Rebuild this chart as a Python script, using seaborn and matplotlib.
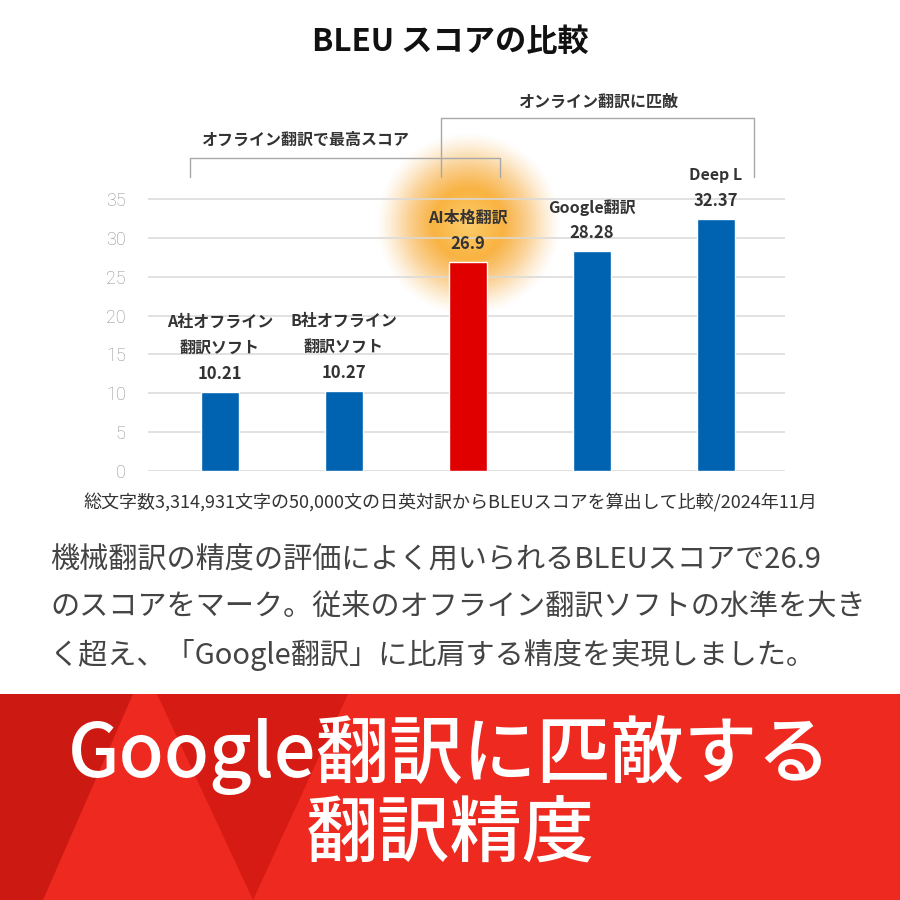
import numpy as np
import pandas as pd
import matplotlib
matplotlib.use("Agg")
import matplotlib.pyplot as plt
from matplotlib.patches import Polygon, Rectangle
import seaborn as sns

# ---------------- data ----------------
names = ["A社オフライン\n翻訳ソフト", "B社オフライン\n翻訳ソフト", "AI本格翻訳", "Google翻訳", "Deep L"]
scores = [10.21, 10.27, 26.9, 28.28, 32.37]
value_labels = ["10.21", "10.27", "26.9", "28.28", "32.37"]
bar_colors = ["#0063B1", "#0063B1", "#E00000", "#0063B1", "#0063B1"]
yticks = [0, 5, 10, 15, 20, 25, 30, 35]

title = "BLEU スコアの比較"
bracket_left_text = "オフライン翻訳で最高スコア"
bracket_right_text = "オンライン翻訳に匹敵"
footnote = "総文字数3,314,931文字の50,000文の日英対訳からBLEUスコアを算出して比較/2024年11月"
paragraph = [
    "機械翻訳の精度の評価によく用いられるBLEUスコアで26.9",
    "のスコアをマーク。従来のオフライン翻訳ソフトの水準を大き",
    "く超え、「Google翻訳」に比肩する精度を実現しました。",
]
banner_lines = ["Google翻訳に匹敵する", "翻訳精度"]

# ---------------- style ----------------
sns.set_theme(style="white")
plt.rcParams["font.family"] = ["Noto Sans CJK JP", "DejaVu Sans"]

W = H = 900
fig = plt.figure(figsize=(9, 9), dpi=100)
fig.patch.set_facecolor("white")

def fx(px):
    return px / W

def fy(py):
    return 1 - py / H

# axes: y=0 at 471px, y=35 at 199px
px_per_unit = (471 - 199) / 35
ytop = 36
ax = fig.add_axes([fx(148), fy(471), fx(785) - fx(148), ytop * px_per_unit / H])
ax.set_facecolor("none")

df = pd.DataFrame({"name": names, "score": scores})
sns.barplot(data=df, x="name", y="score", hue="name", palette=bar_colors,
            width=0.31, saturation=1, legend=False, ax=ax, zorder=3)

ax.set_xlim(-0.58, 4.556)
ax.set_ylim(0, ytop)
ax.set_yticks(yticks)
ax.set_yticklabels([str(t) for t in yticks], color="#8f8f8f", fontsize=13,
                   family=["Roboto", "DejaVu Sans"], fontweight="light")
ax.tick_params(axis="y", length=0, pad=16)
ax.set_xticks([])
ax.set_xlabel("")
ax.set_ylabel("")
for s in ax.spines.values():
    s.set_visible(False)
ax.grid(axis="y", color="#d9d9d9", linewidth=1.1)
ax.set_axisbelow(True)

# glow behind the AI bar
gi = 2
n = 300
yy, xx = np.mgrid[-1:1:n * 1j, -1:1:n * 1j]
r = np.sqrt(xx ** 2 + yy ** 2)
alpha = np.clip((1 - r) / 0.62, 0, 1) ** 1.25
inner = np.array([0.99, 0.80, 0.42])
outer = np.array([0.965, 0.62, 0.12])
t = np.clip(r / 0.7, 0, 1)[..., None]
rgb = inner * (1 - t) + outer * t
img = np.dstack([rgb, alpha])
rad_px = 92
rx = rad_px / 124
ry = rad_px / px_per_unit
cy = scores[gi] + 38 / px_per_unit
im = ax.imshow(img, extent=[gi - rx, gi + rx, cy - ry, cy + ry], aspect="auto",
               zorder=0.2, origin="lower", interpolation="bilinear")
im.set_clip_on(False)
ax.set_xlim(-0.58, 4.556)
ax.set_ylim(0, ytop)

# bar labels
for i, (nm, v, vl) in enumerate(zip(names, scores, value_labels)):
    ax.annotate(vl, (i, v), xytext=(0, 18), textcoords="offset pixels",
                ha="center", va="center", fontsize=12, fontweight="bold",
                color="#333333", zorder=5)
    lines = nm.split("\n")
    for k, ln in enumerate(reversed(lines)):
        ax.annotate(ln, (i, v), xytext=(0, 18 + 26 * (k + 1)), textcoords="offset pixels",
                    ha="center", va="center", fontsize=11.5, fontweight="bold",
                    color="#333333", zorder=5)

# brackets (data-x, pixel-y)
def pxy(py):
    return (471 - py) / px_per_unit

bcol = "#a8a8a8"
def bracket(x0, x1, ytop_px, ybot_px):
    ax.plot([x0, x0, x1, x1], [pxy(ybot_px), pxy(ytop_px), pxy(ytop_px), pxy(ybot_px)],
            color=bcol, lw=1, clip_on=False, zorder=4)

bracket(-0.24, 2.26, 158, 177)
bracket(1.78, 4.31, 118, 177)
ax.text(0.69, pxy(140), bracket_left_text, ha="center", va="center", fontsize=11.5,
        fontweight="bold", color="#333333", clip_on=False)
ax.text(3.05, pxy(102), bracket_right_text, ha="center", va="center", fontsize=11.5,
        fontweight="bold", color="#333333", clip_on=False)

# title
fig.text(0.5, fy(42), title, ha="center", va="center", fontsize=22.5, fontweight="bold",
         color="#111111")

# footnote
fig.text(0.5, fy(503), footnote, ha="center", va="center", fontsize=13, color="#333333")

# paragraph
for k, ln in enumerate(paragraph):
    fig.text(fx(50), fy(561 + 47 * k), ln, ha="left", va="center", fontsize=21,
             color="#444444")

# banner
btop = 694
fig.add_artist(Rectangle((0, 0), 1, fy(btop), transform=fig.transFigure,
                         facecolor="#EE291F", edgecolor="none", zorder=1))
polys = [
    ([(0, btop), (133, btop), (43, 900), (0, 900)], "#CC1A12"),
    ([(157, btop), (348, btop), (253, 900)], "#D51B13"),
]
for pts, c in polys:
    fig.add_artist(Polygon([(fx(a), fy(b)) for a, b in pts], closed=True,
                           transform=fig.transFigure, facecolor=c, edgecolor="none", zorder=1.1))

fig.text(0.5, fy(755), banner_lines[0], ha="center", va="center", fontsize=53,
         fontweight="medium", color="white", zorder=2)
fig.text(0.5, fy(836), banner_lines[1], ha="center", va="center", fontsize=52,
         fontweight="medium", color="white", zorder=2)

fig.savefig("out.png", dpi=100, facecolor="white")
